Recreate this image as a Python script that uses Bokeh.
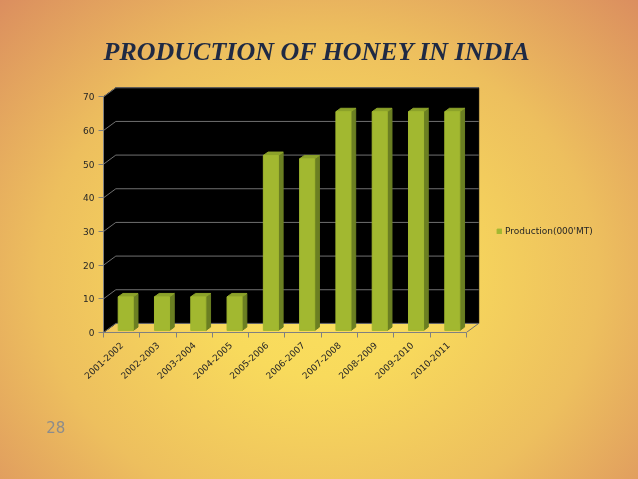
from bokeh.plotting import figure
from bokeh.embed import file_html
from bokeh.resources import INLINE
from bokeh.models import Range1d, FixedTicker, Legend, LegendItem, Title

TITLE = "PRODUCTION OF HONEY IN INDIA"
SERIES = "Production(000'MT)"
PAGE_NUMBER = "28"
years = ["2001-2002", "2002-2003", "2003-2004", "2004-2005", "2005-2006",
         "2006-2007", "2007-2008", "2008-2009", "2009-2010", "2010-2011"]
production = [10, 10, 10, 10, 52, 51, 65, 65, 65, 65]
y_ticks = [0, 10, 20, 30, 40, 50, 60, 70]

W, H = 638, 479
LEFT, RIGHT, TOP, BOTTOM = 103.3, 478.3, 86.7, 331.5
n = len(years)
ymax = y_ticks[-1]
dx, dy = 0.34, 2.7          # depth of the 3D box
xwall = n + dx
xend = (W - LEFT) / ((RIGHT - LEFT) / xwall)   # frame runs on to the page edge, for the legend
yend = (BOTTOM - TOP) / 3.35
bar_l, bar_r = 0.405, 0.82  # bar front within its category
bx, by = 0.13, 1.0          # bar depth
base = 0.6                  # bar base above the front floor edge

p = figure(width=W, height=H, output_backend="svg", toolbar_location=None,
           x_range=Range1d(0, xend), y_range=Range1d(0, yend),
           min_border_left=int(LEFT), min_border_right=0,
           min_border_top=int(TOP), min_border_bottom=int(H - BOTTOM),
           background_fill_color=None, border_fill_color=None, outline_line_color=None)
p.styles = {"position": "fixed", "left": "0", "top": "0",
            "background": "radial-gradient(ellipse farthest-corner at 50% 58%, #FBE05E 0%, #F8DA5C 25%, #EDBF5E 62%, #DB8E5F 100%)"}
p.grid.visible = False

# back wall with the floor cut out
p.patch([0, 0, dx, xwall, xwall, dx], [0, ymax, ymax + dy, ymax + dy, dy, dy], color="black")
# gridlines and floor
for t in y_ticks:
    p.line([0, dx, xwall], [t, t + dy, t + dy], line_color="#707070", line_width=1)
p.line([xwall, n], [dy, 0], line_color="#707070", line_width=1)

# bars
x0 = [i + bar_l for i in range(n)]
x1 = [i + bar_r for i in range(n)]
tops = [v + base for v in production]
side_x = [[r, r + bx, r + bx, r] for r in x1]
side_y = [[base, base + by, t + by, t] for t in tops]
top_x = [[l, l + bx, r + bx, r] for l, r in zip(x0, x1)]
top_y = [[t, t + by, t + by, t] for t in tops]
p.patches(side_x, side_y, color="#6B7F22")
p.patches(top_x, top_y, color="#8CA22A")
front = p.quad(left=x0, right=x1, bottom=base, top=tops, color="#A2B830")

# axes
ya = p.yaxis[0]
ya.ticker = FixedTicker(ticks=y_ticks)
ya.bounds = (0, ymax)
ya.axis_line_color = ya.major_tick_line_color = "#808080"
ya.major_tick_in, ya.major_tick_out = 0, 5
ya.minor_tick_line_color = None
ya.major_label_text_font = "DejaVu Sans"
ya.major_label_text_font_size = "9px"
ya.major_label_text_color = "#262626"
ya.major_label_standoff = 4

xa = p.xaxis[0]
centers = [i + 0.5 for i in range(n)]
xa.ticker = FixedTicker(ticks=centers, minor_ticks=list(range(n + 1)))
xa.major_label_overrides = dict(zip(centers, years))
xa.bounds = (0, n)
xa.axis_line_color = xa.minor_tick_line_color = "#808080"
xa.major_tick_line_color = None
xa.major_tick_in, xa.major_tick_out = 0, 0
xa.minor_tick_in, xa.minor_tick_out = 0, 5
xa.major_label_orientation = 0.75
xa.major_label_text_font = "DejaVu Sans"
xa.major_label_text_font_size = "9px"
xa.major_label_text_color = "#262626"
xa.major_label_standoff = 6

# title
p.title.text = TITLE
p.title.text_font = "Liberation Serif"
p.title.text_font_style = "bold italic"
p.title.text_font_size = "26px"
p.title.text_color = "#1F2A44"
p.title.align = "left"
p.title.offset = 0
p.title.standoff = 41

# legend
leg = Legend(items=[LegendItem(label=SERIES, renderers=[front])],
             location=(RIGHT - LEFT + 18, 96), orientation="vertical",
             background_fill_color=None, border_line_color=None,
             glyph_width=6, glyph_height=6, label_text_font="DejaVu Sans",
             label_text_font_size="9px", label_text_color="#262626",
             label_standoff=3, padding=2, margin=0)
p.add_layout(leg, "center")

# slide number
p.add_layout(Title(text=PAGE_NUMBER, align="left", offset=46 - LEFT, standoff=66,
                   text_font="DejaVu Sans", text_font_size="15px", text_font_style="normal",
                   text_color="#8C8C8C"), "below")

open("out.html", "w").write(file_html(p, INLINE))
